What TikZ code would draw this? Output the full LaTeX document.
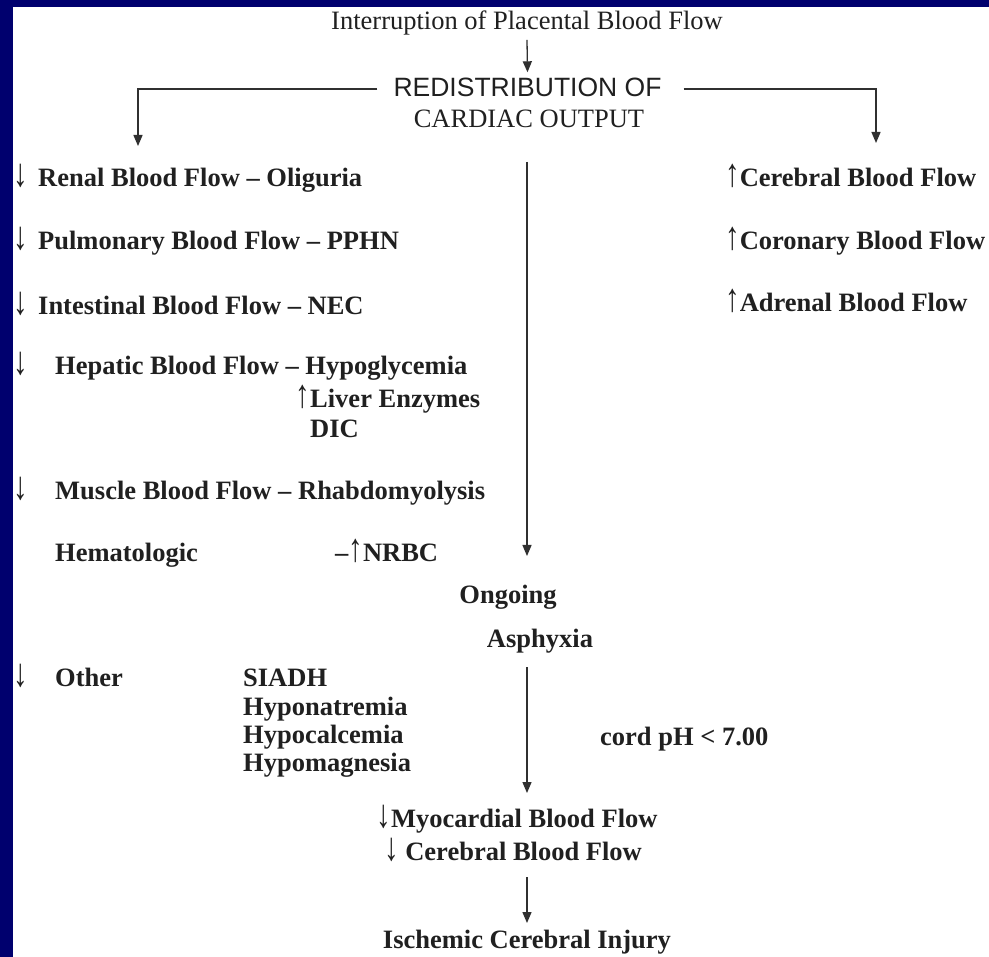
\documentclass[tikz,border=0pt]{standalone}
\usepackage{fontspec}
\usepackage{graphicx}
\setmainfont{Liberation Serif}
\newfontfamily\arialf{Liberation Sans}
\usetikzlibrary{arrows.meta}
\definecolor{bluebg}{RGB}{0,0,110}
\definecolor{ink}{HTML}{202020}
\definecolor{linec}{HTML}{303030}
\newcommand\dnar{\scalebox{1.1}[1.5]{\mdseries↓}}
\newcommand\upar{\scalebox{1.1}[1.5]{\mdseries↑}}
\tikzset{
  txt/.style={inner sep=0pt, text=ink, font=\fontsize{26.5}{28}\selectfont\bfseries},
  txtw/.style={txt, anchor=base west},
  txtc/.style={txt, anchor=base},
  plain/.style={inner sep=0pt, text=ink, font=\fontsize{26.5}{28}\selectfont, anchor=base},
  arr/.style={draw=linec, line width=1.3pt, -{Triangle[length=11pt,width=9pt]}},
}
\begin{document}
\begin{tikzpicture}[x=1pt,y=-1pt]
\fill[bluebg] (0,0) rectangle (989,957);
\fill[white] (13,7) rectangle (989,957);
\useasboundingbox (0,0) rectangle (989,957);

% top
\node[plain] (top) at (527,30) {Interruption of Placental Blood Flow};
\node[plain, font=\fontsize{26.5}{28}\selectfont\arialf] (redist) at (527.5,97) {REDISTRIBUTION OF};
\node[plain] (card) at (529,128) {CARDIAC OUTPUT};
\draw[arr] ([yshift=-4pt]top.south) -- ([yshift=6pt]redist.north);

\coordinate (lefttip) at (138,146);
\coordinate (righttip) at (876,143);
\draw[arr] ([xshift=-16pt,yshift=-1pt]redist.west) -| (lefttip);
\draw[arr] ([xshift=22pt,yshift=-1pt]redist.east) -| (righttip);

% left column
\node[txtw] (a1) at (13,187) {\dnar};
\node[txtw] (renal) at (38,187) {Renal Blood Flow – Oliguria};
\node[txtw] (a2) at (13,250) {\dnar};
\node[txtw] (pulm) at (38,250) {Pulmonary Blood Flow – PPHN};
\node[txtw] (a3) at (13,315) {\dnar};
\node[txtw] (intest) at (38,315) {Intestinal Blood Flow – NEC};
\node[txtw] (a4) at (13,375) {\dnar};
\node[txtw] (hep) at (55,375) {Hepatic Blood Flow – Hypoglycemia};
\node[txtw] (a5) at (295,408) {\upar};
\node[txtw] (liver) at (310,408) {Liver Enzymes};
\node[txtw] (dic) at (310,438) {DIC};
\node[txtw] (a6) at (13,500) {\dnar};
\node[txtw] (muscle) at (55,500) {Muscle Blood Flow – Rhabdomyolysis};
\node[txtw] (hema) at (55,562) {Hematologic};
\node[txtw] (nrbc) at (335,562) {–\upar NRBC};
\node[txtw] (a7) at (13,686) {\dnar};
\node[txtw] (other) at (55,686) {Other};
\node[txtw] (siadh) at (243,686) {SIADH};
\node[txtw] (hna) at (243,715) {Hyponatremia};
\node[txtw] (hca) at (243,743) {Hypocalcemia};
\node[txtw] (hmg) at (243,771) {Hypomagnesia};

% right column
\node[txtw] (cere) at (725,187) {\upar Cerebral Blood Flow};
\node[txtw] (coro) at (725,250) {\upar Coronary Blood Flow};
\node[txtw] (adre) at (725,312) {\upar Adrenal Blood Flow};

% centre column
\coordinate (midtop) at (527,162);
\coordinate (midbot) at (527,556);
\draw[arr] (midtop) -- (midbot);
\node[txtc] (ong) at (508,604) {Ongoing};
\node[txtc] (asph) at (540,648) {Asphyxia};
\node[txtw] (cord) at (600,745) {cord pH < 7.00};
\node[txtc] (myo) at (517,827) {\dnar Myocardial Blood Flow};
\node[txtc] (cbf) at (513,860) {\dnar\ Cerebral Blood Flow};
\node[txtc] (isch) at (527,948) {Ischemic Cerebral Injury};

\coordinate (asphbot) at (527,667);
\coordinate (myotop) at (527,793);
\draw[arr] (asphbot) -- (myotop);
\coordinate (cbfbot) at (527,877);
\coordinate (ischtop) at (527,923);
\draw[arr] (cbfbot) -- (ischtop);
\end{tikzpicture}
\end{document}
